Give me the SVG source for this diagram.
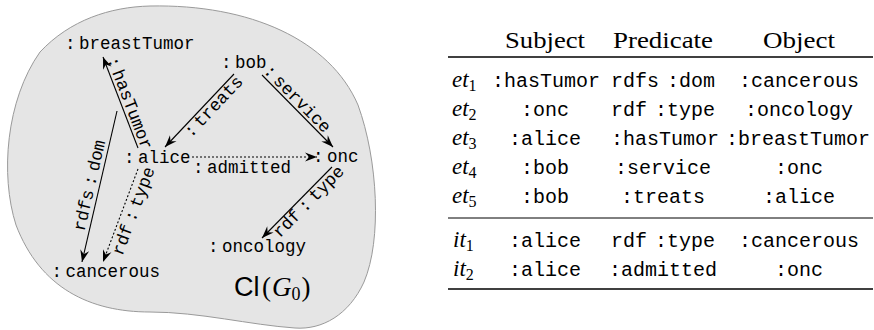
<svg xmlns="http://www.w3.org/2000/svg" width="874" height="330" viewBox="0 0 874 330">
<style>
.tt{font-family:"Liberation Mono","DejaVu Sans Mono",monospace;font-size:17.5px;fill:#000;word-spacing:-7px}
.ttm{font-family:"Liberation Mono","DejaVu Sans Mono",monospace;font-size:17.5px;fill:#000;word-spacing:-6px}
.edge{stroke:#000;stroke-width:1.1;fill:none}
.dot{stroke:#000;stroke-width:1.1;fill:none;stroke-dasharray:2 2}
.tb{font-family:"Liberation Mono","DejaVu Sans Mono",monospace;font-size:20px;fill:#000;text-anchor:middle;word-spacing:-4px}
.hd{font-family:"Liberation Serif","Times New Roman",serif;font-size:23px;fill:#000;text-anchor:middle}
.it{font-family:"Liberation Serif","Times New Roman",serif;font-style:italic;font-size:23px;fill:#000}
.sub{font-style:normal;font-size:16px}
.rule{stroke:#000}
</style>
<defs>
<marker id="arr" viewBox="-13 -6 14 12" refX="0" refY="0" markerWidth="14" markerHeight="12" markerUnits="userSpaceOnUse" orient="auto">
<path d="M-12,-4.5 L0,0 L-12,4.5 L-8,0 Z" fill="#000"/>
</marker>
</defs>
<path id="blob" d="M150,6 C250,4 330,40 358,105 C378,160 382,240 364,282 C349,315 322,330 295,328 C250,325 200,312 150,312 C90,312 40,288 16,225 C0,175 6,100 40,52 C70,20 110,7 150,6 Z" fill="#e5e5e5" stroke="#9a9a9a" stroke-width="1"/>
<g id="connectors">
<line class="edge" x1="138" y1="148" x2="103" y2="57" marker-end="url(#arr)"/>
<text class="tt" transform="translate(107.1,59.2) rotate(69)">: hasTumor</text>
<line class="edge" x1="234" y1="74" x2="165" y2="147" marker-end="url(#arr)"/>
<text class="tt" transform="translate(191.1,138.3) rotate(-46.6)">: treats</text>
<line class="edge" x1="262" y1="75" x2="333" y2="147" marker-end="url(#arr)"/>
<text class="tt" transform="translate(262.7,71.5) rotate(45.4)">: service</text>
<line class="dot" x1="192" y1="157" x2="317" y2="157" marker-end="url(#arr)"/>
<text class="tt" x="193" y="173">: admitted</text>
<line class="edge" x1="332" y1="167" x2="262" y2="238" marker-end="url(#arr)"/>
<text class="ttm" transform="translate(279.7,238.6) rotate(-45.4)">rdf : type</text>
<line class="edge" x1="117" y1="111" x2="82" y2="262" marker-end="url(#arr)"/>
<text class="ttm" transform="translate(84.3,232) rotate(-76.9)">rdfs : dom</text>
<line class="dot" x1="138" y1="169" x2="103" y2="262" marker-end="url(#arr)"/>
<text class="ttm" transform="translate(122.2,256.4) rotate(-69.4)">rdf : type</text>
</g>
<g id="node-breastTumor"><text class="tt" x="65" y="49">: breastTumor</text></g>
<g id="node-bob"><text class="tt" x="221" y="68">: bob</text></g>
<g id="node-alice"><text class="tt" x="124" y="163">: alice</text></g>
<g id="node-onc"><text class="tt" x="313" y="162">: onc</text></g>
<g id="node-cancerous"><text class="tt" x="51.5" y="277">: cancerous</text></g>
<g id="node-oncology"><text class="tt" x="208" y="252">: oncology</text></g>
<g id="graph-title">
<text x="234" y="296" font-family="Liberation Sans,Arial,sans-serif" font-size="27">Cl</text>
<text x="262" y="296" font-family="Liberation Serif,Times New Roman,serif" font-size="27">(<tspan font-style="italic" dx="1">G</tspan><tspan font-size="18" dy="4">0</tspan><tspan dy="-4" dx="1">)</tspan></text>
</g>
<g id="table">
<text class="hd" x="545" y="48" textLength="80" lengthAdjust="spacingAndGlyphs">Subject</text>
<text class="hd" x="663" y="48" textLength="100" lengthAdjust="spacingAndGlyphs">Predicate</text>
<text class="hd" x="799" y="48" textLength="72" lengthAdjust="spacingAndGlyphs">Object</text>
<line class="rule" x1="448" y1="57" x2="873" y2="57" stroke-width="1.7"/>
<text class="it" x="452" y="87">et<tspan class="sub" dy="4">1</tspan></text>
<text class="tb" x="546" y="87">:hasTumor</text><text class="tb" x="663" y="87">rdfs :dom</text><text class="tb" x="799" y="87">:cancerous</text>
<text class="it" x="452" y="116">et<tspan class="sub" dy="4">2</tspan></text>
<text class="tb" x="545" y="116">:onc</text><text class="tb" x="663" y="116">rdf :type</text><text class="tb" x="799" y="116">:oncology</text>
<text class="it" x="452" y="145">et<tspan class="sub" dy="4">3</tspan></text>
<text class="tb" x="545" y="145">:alice</text><text class="tb" x="665" y="145">:hasTumor</text><text class="tb" x="798" y="145">:breastTumor</text>
<text class="it" x="452" y="174">et<tspan class="sub" dy="4">4</tspan></text>
<text class="tb" x="545" y="174">:bob</text><text class="tb" x="663" y="174">:service</text><text class="tb" x="799" y="174">:onc</text>
<text class="it" x="452" y="203">et<tspan class="sub" dy="4">5</tspan></text>
<text class="tb" x="545" y="203">:bob</text><text class="tb" x="663" y="203">:treats</text><text class="tb" x="799" y="203">:alice</text>
<line class="rule" x1="448" y1="218" x2="873" y2="218" stroke-width="1"/>
<text class="it" x="453" y="247">it<tspan class="sub" dy="4">1</tspan></text>
<text class="tb" x="545" y="247">:alice</text><text class="tb" x="663" y="247">rdf :type</text><text class="tb" x="799" y="247">:cancerous</text>
<text class="it" x="453" y="276">it<tspan class="sub" dy="4">2</tspan></text>
<text class="tb" x="545" y="276">:alice</text><text class="tb" x="663" y="276">:admitted</text><text class="tb" x="799" y="276">:onc</text>
<line class="rule" x1="448" y1="289" x2="873" y2="289" stroke-width="1.7"/>
</g>
</svg>
